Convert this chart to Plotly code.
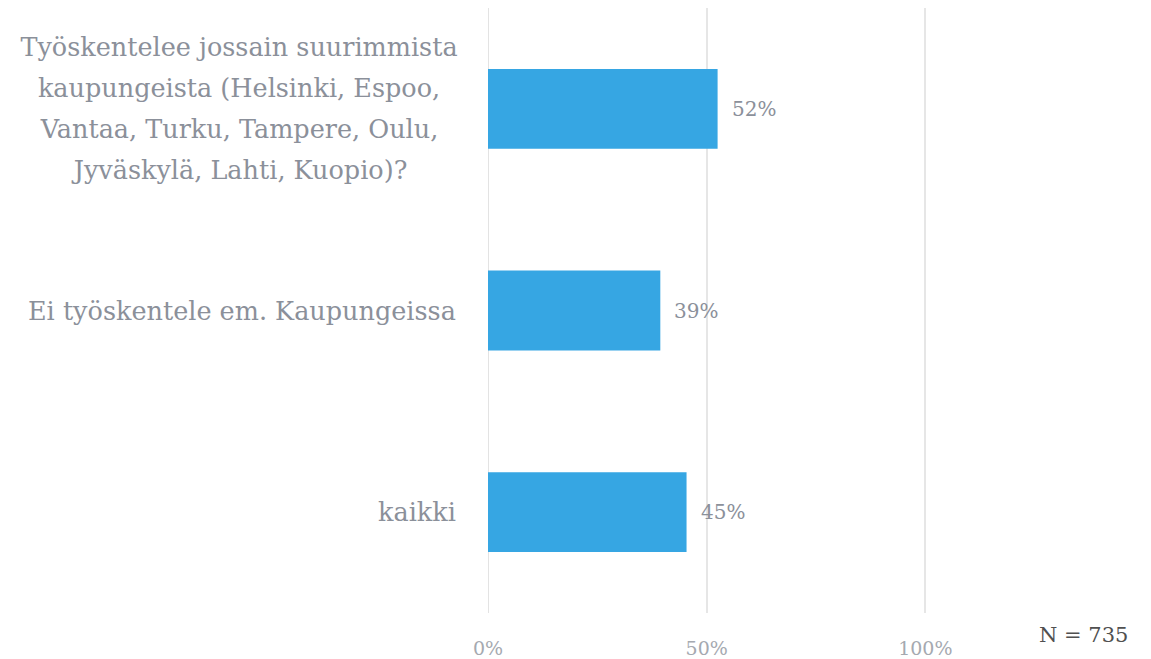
import plotly.graph_objects as go

categories = [
    "Työskentelee jossain suurimmista<br>kaupungeista (Helsinki, Espoo,<br>Vantaa, Turku, Tampere, Oulu,<br>Jyväskylä, Lahti, Kuopio)?",
    "Ei työskentele em. Kaupungeissa",
    "kaikki",
]
values = [0.525, 0.394, 0.454]
value_labels = ["52%", "39%", "45%"]
tick_vals = [0, 0.5, 1.0]
tick_text = ["0%", "50%", "100%"]
n_text = "N = 735"

FONT = "DejaVu Serif"
GRAY = "#8b909a"
LINE_H = 41

fig = go.Figure(go.Bar(
    y=list(range(len(categories))),
    x=values,
    orientation="h",
    width=0.396,
    marker=dict(color="#36a6e3", line=dict(width=0)),
    hoverinfo="skip",
))

annotations = []
for i, (c, v, t) in enumerate(zip(categories, values, value_labels)):
    lines = c.split("<br>")
    n = len(lines)
    for k, ln in enumerate(lines):
        a = dict(
            x=0, xref="paper", y=i, yref="y", text=ln, showarrow=False,
            xanchor="right", yanchor="middle", xshift=-30,
            yshift=-(k - (n - 1) / 2) * LINE_H,
            font=dict(family=FONT, size=25.5, color=GRAY),
        )
        if n > 1:
            a["width"] = 446
            a["align"] = "center"
            a["xshift"] = -24
        annotations.append(a)
    annotations.append(dict(
        x=v, xref="x", y=i, yref="y", text=t, showarrow=False,
        xanchor="left", yanchor="middle", xshift=12,
        font=dict(family=FONT, size=20, color=GRAY),
    ))
annotations.append(dict(
    x=1.0, xref="paper", y=-0.037, yref="paper", text=n_text, showarrow=False,
    xanchor="right", yanchor="middle", xshift=-14,
    font=dict(family=FONT, size=21, color="#505050"),
))

fig.add_shape(type="line", xref="x", yref="paper", x0=0, x1=0, y0=0, y1=1,
              line=dict(color="#e3e3e3", width=2), layer="below")

fig.update_layout(
    width=1143, height=651,
    margin=dict(l=480, r=7, t=0, b=37),
    paper_bgcolor="white", plot_bgcolor="white",
    showlegend=False,
    annotations=annotations,
)
fig.update_xaxes(
    range=[0, 1.5], tickvals=tick_vals, ticktext=tick_text,
    showgrid=True, gridcolor="#e6e6e6", gridwidth=2,
    zeroline=False, showline=False,
    tickfont=dict(family=FONT, size=19, color="#a5a9b0"),
    ticklabelstandoff=22,
)
fig.update_yaxes(
    range=[2.5, -0.5], showticklabels=False, showgrid=False,
    zeroline=False, showline=False,
)

fig.write_html("out.html")
